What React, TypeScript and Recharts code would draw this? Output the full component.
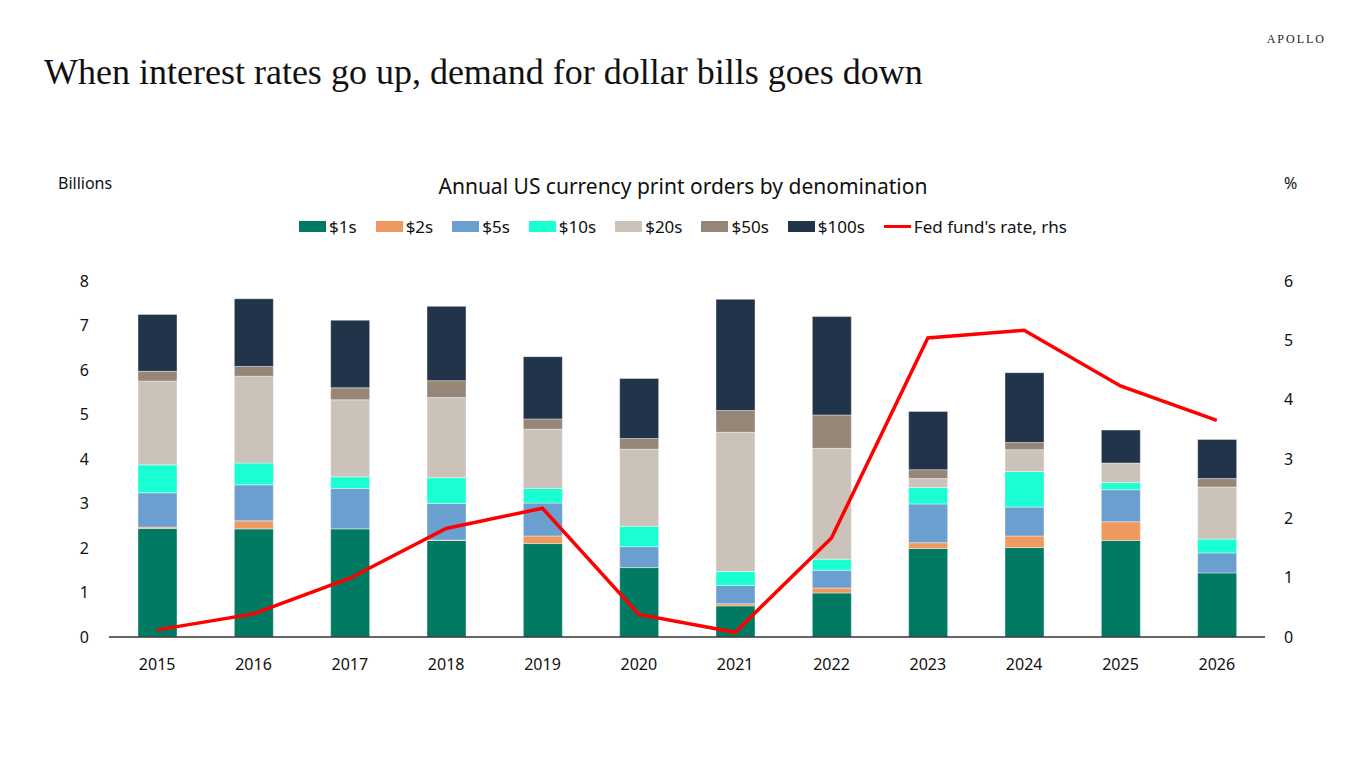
import React from 'react';
import {
  ComposedChart,
  Bar,
  Line,
  XAxis,
  YAxis,
} from 'recharts';

const years = ['2015', '2016', '2017', '2018', '2019', '2020', '2021', '2022', '2023', '2024', '2025', '2026'];

// billions of notes ordered, by denomination
const ones = [2.44, 2.43, 2.43, 2.17, 2.10, 1.56, 0.70, 0.99, 1.99, 2.01, 2.17, 1.44];
const twos = [0.03, 0.18, 0.0, 0.01, 0.17, 0.0, 0.05, 0.11, 0.13, 0.26, 0.42, 0.0];
const fives = [0.77, 0.81, 0.91, 0.82, 0.74, 0.47, 0.41, 0.40, 0.87, 0.65, 0.72, 0.45];
const tens = [0.63, 0.49, 0.26, 0.58, 0.33, 0.46, 0.31, 0.25, 0.37, 0.80, 0.16, 0.31];
const twenties = [1.88, 1.95, 1.73, 1.80, 1.33, 1.73, 3.13, 2.49, 0.20, 0.49, 0.44, 1.17];
const fifties = [0.22, 0.22, 0.27, 0.38, 0.23, 0.24, 0.49, 0.75, 0.20, 0.16, 0.0, 0.19];
const hundreds = [1.28, 1.52, 1.52, 1.67, 1.40, 1.35, 2.50, 2.21, 1.31, 1.57, 0.74, 0.88];

// fed funds rate, %, right axis
const fedFunds = [0.12, 0.39, 0.99, 1.83, 2.17, 0.38, 0.08, 1.67, 5.04, 5.17, 4.23, 3.65];

const leftTicks = [0, 1, 2, 3, 4, 5, 6, 7, 8];
const rightTicks = [0, 1, 2, 3, 4, 5, 6];

const series = [
  { key: 'ones', name: '$1s', color: '#007A62', values: ones },
  { key: 'twos', name: '$2s', color: '#EE9A5E', values: twos },
  { key: 'fives', name: '$5s', color: '#6A9FD0', values: fives },
  { key: 'tens', name: '$10s', color: '#19FFD1', values: tens },
  { key: 'twenties', name: '$20s', color: '#CBC2BA', values: twenties },
  { key: 'fifties', name: '$50s', color: '#958677', values: fifties },
  { key: 'hundreds', name: '$100s', color: '#213449', values: hundreds },
];

const data = years.map((year, i) => {
  const row: Record<string, string | number> = { year, fed: fedFunds[i] };
  series.forEach((s) => {
    row[s.key] = s.values[i];
  });
  return row;
});

const sans = '"Noto Sans", "Open Sans", sans-serif';
const tickStyle = { fontSize: 16, fill: '#111', fontFamily: sans };

const Legend = () => (
  <div
    style={{
      position: 'absolute',
      top: 215,
      left: 0,
      width: 1366,
      display: 'flex',
      justifyContent: 'center',
      gap: 19,
      fontFamily: sans,
      fontSize: 17,
      color: '#111',
    }}
  >
    {series.map((s) => (
      <div key={s.key} style={{ display: 'flex', alignItems: 'center', gap: 3 }}>
        <span style={{ display: 'inline-block', width: 27, height: 11, background: s.color }} />
        <span>{s.name}</span>
      </div>
    ))}
    <div style={{ display: 'flex', alignItems: 'center', gap: 3 }}>
      <span style={{ display: 'inline-block', width: 27, height: 3, background: '#FF0000' }} />
      <span>Fed fund's rate, rhs</span>
    </div>
  </div>
);

export default function App() {
  return (
    <div
      style={{
        position: 'absolute',
        top: 0,
        left: 0,
        width: 1366,
        height: 768,
        background: '#fff',
        overflow: 'hidden',
      }}
    >
      <div
        style={{
          position: 'absolute',
          top: 32,
          right: 40,
          fontFamily: '"Liberation Serif", serif',
          fontSize: 12,
          letterSpacing: 2,
          color: '#222',
        }}
      >
        APOLLO
      </div>
      <div
        style={{
          position: 'absolute',
          top: 51,
          left: 44,
          fontFamily: '"Liberation Serif", serif',
          fontSize: 36,
          color: '#111',
          whiteSpace: 'nowrap',
        }}
      >
        When interest rates go up, demand for dollar bills goes down
      </div>
      <div style={{ position: 'absolute', top: 172, left: 58, fontFamily: sans, fontSize: 16, color: '#111' }}>
        Billions
      </div>
      <div style={{ position: 'absolute', top: 172, left: 1284, fontFamily: sans, fontSize: 16, color: '#111' }}>
        %
      </div>
      <div
        style={{
          position: 'absolute',
          top: 172,
          left: 0,
          width: 1366,
          textAlign: 'center',
          fontFamily: sans,
          fontSize: 21,
          color: '#111',
        }}
      >
        Annual US currency print orders by denomination
      </div>
      <Legend />
      <div style={{ position: 'absolute', top: 0, left: 0 }}>
        <ComposedChart
          width={1366}
          height={768}
          data={data}
          margin={{ top: 281, right: 41, bottom: 101, left: 49 }}
          barSize={39}
        >
          <XAxis
            dataKey="year"
            axisLine={{ stroke: '#333', strokeWidth: 1.5 }}
            tickLine={false}
            tickSize={0}
            tickMargin={22}
            tick={tickStyle}
            height={30}
          />
          <YAxis
            yAxisId="left"
            domain={[0, 8]}
            ticks={leftTicks}
            axisLine={false}
            tickLine={false}
            tickSize={0}
            tickMargin={20}
            tick={tickStyle}
            width={60}
          />
          <YAxis
            yAxisId="right"
            orientation="right"
            domain={[0, 6]}
            ticks={rightTicks}
            axisLine={false}
            tickLine={false}
            tickSize={0}
            tickMargin={19}
            tick={{ ...tickStyle, textAnchor: 'start' }}
            width={60}
          />
          {series.map((s) => (
            <Bar
              key={s.key}
              dataKey={s.key}
              name={s.name}
              stackId="notes"
              yAxisId="left"
              fill={s.color}
              stroke="#ffffff"
              strokeWidth={0.4}
              isAnimationActive={false}
            />
          ))}
          <Line
            type="linear"
            dataKey="fed"
            name="Fed fund's rate, rhs"
            yAxisId="right"
            stroke="#FF0000"
            strokeWidth={3.5}
            dot={false}
            isAnimationActive={false}
          />
        </ComposedChart>
      </div>
    </div>
  );
}
